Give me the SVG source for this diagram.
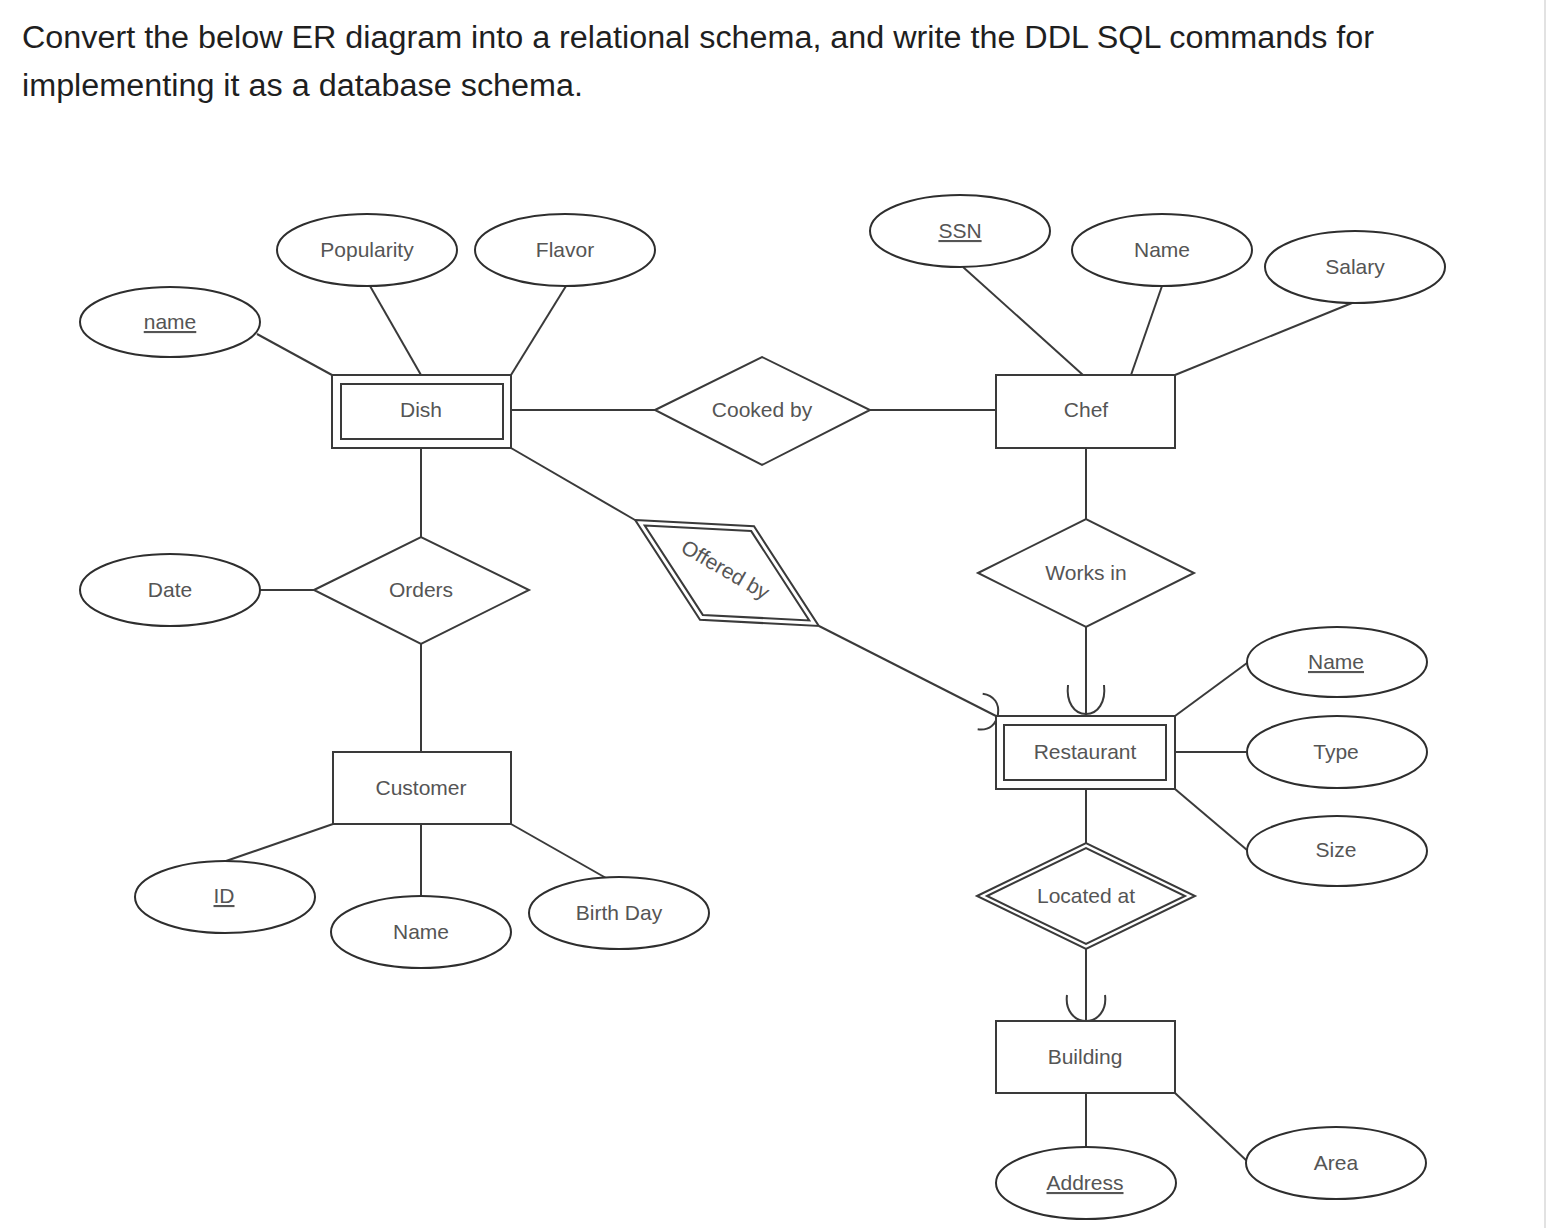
<svg xmlns="http://www.w3.org/2000/svg" width="1548" height="1228" viewBox="0 0 1548 1228">
<style>
.bg{fill:#ffffff}
.ent{fill:#ffffff;stroke:#3a3a3a;stroke-width:2}
.attr{fill:#ffffff;stroke:#2e2e2e;stroke-width:2}
.rel{fill:#ffffff;stroke:#3a3a3a;stroke-width:2}
.ln{stroke:#3a3a3a;stroke-width:2;fill:none}
.lbl{font-family:"Liberation Sans",Arial,sans-serif;font-size:21px;fill:#555555;text-anchor:middle}
.key{text-decoration:underline}
.hdr{font-family:"Liberation Sans",Arial,sans-serif;font-size:31px;fill:#1f1f1f}
</style>
<rect class="bg" x="0" y="0" width="1548" height="1228"/>
<line x1="1545" y1="0" x2="1545" y2="1228" stroke="#e2e2e2" stroke-width="2"/>
<g id="header">
<text class="hdr" x="22" y="48" textLength="1352" lengthAdjust="spacingAndGlyphs">Convert the below ER diagram into a relational schema, and write the DDL SQL commands for</text>
<text class="hdr" x="22" y="96" textLength="561" lengthAdjust="spacingAndGlyphs">implementing it as a database schema.</text>
</g>
<g id="connectors">
<line class="ln" x1="257" y1="334" x2="332" y2="375"/>
<line class="ln" x1="370" y1="286" x2="421" y2="375"/>
<line class="ln" x1="566" y1="286" x2="511" y2="375"/>
<line class="ln" x1="511" y1="410" x2="655" y2="410"/>
<line class="ln" x1="870" y1="410" x2="996" y2="410"/>
<line class="ln" x1="963" y1="267" x2="1083" y2="375"/>
<line class="ln" x1="1162" y1="286" x2="1131" y2="375"/>
<line class="ln" x1="1352" y1="303" x2="1175" y2="375"/>
<line class="ln" x1="1086" y1="448" x2="1086" y2="519"/>
<line class="ln" x1="1086" y1="627" x2="1086" y2="716"/>
<line class="ln" x1="511" y1="448" x2="635" y2="520"/>
<line class="ln" x1="819" y1="626" x2="996" y2="716"/>
<line class="ln" x1="421" y1="448" x2="421" y2="537"/>
<line class="ln" x1="260" y1="590" x2="314" y2="590"/>
<line class="ln" x1="421" y1="644" x2="421" y2="752"/>
<line class="ln" x1="333" y1="824" x2="226" y2="861"/>
<line class="ln" x1="421" y1="824" x2="421" y2="896"/>
<line class="ln" x1="511" y1="824" x2="606" y2="878"/>
<line class="ln" x1="1175" y1="716" x2="1247" y2="663"/>
<line class="ln" x1="1175" y1="752" x2="1246" y2="752"/>
<line class="ln" x1="1175" y1="789" x2="1247" y2="850"/>
<line class="ln" x1="1086" y1="789" x2="1086" y2="843"/>
<line class="ln" x1="1086" y1="948" x2="1086" y2="1021"/>
<line class="ln" x1="1086" y1="1093" x2="1086" y2="1147"/>
<line class="ln" x1="1175" y1="1093" x2="1248" y2="1162"/>
<path class="ln" d="M1068,685 C1066,702 1074,714 1086,714 C1098,714 1106,702 1104,685"/>
<path class="ln" d="M1067,995 C1065,1010 1074,1021 1086,1021 C1098,1021 1107,1010 1105,995"/>
<path class="ln" transform="translate(998,714) rotate(-82)" d="M-18,-18 C-18,-6 -10,0 0,0 C10,0 18,-6 18,-18"/>
</g>
<g id="attr-name">
<ellipse class="attr" cx="170" cy="322" rx="90" ry="35"/>
<text class="lbl key" x="170" y="329">name</text>
</g>
<g id="attr-popularity">
<ellipse class="attr" cx="367" cy="250" rx="90" ry="36"/>
<text class="lbl" x="367" y="257">Popularity</text>
</g>
<g id="attr-flavor">
<ellipse class="attr" cx="565" cy="250" rx="90" ry="36"/>
<text class="lbl" x="565" y="257">Flavor</text>
</g>
<g id="attr-ssn">
<ellipse class="attr" cx="960" cy="231" rx="90" ry="36"/>
<text class="lbl key" x="960" y="238">SSN</text>
</g>
<g id="attr-chef-name">
<ellipse class="attr" cx="1162" cy="250" rx="90" ry="36"/>
<text class="lbl" x="1162" y="257">Name</text>
</g>
<g id="attr-salary">
<ellipse class="attr" cx="1355" cy="267" rx="90" ry="36"/>
<text class="lbl" x="1355" y="274">Salary</text>
</g>
<g id="dish">
<rect class="ent" x="332" y="375" width="179" height="73"/>
<rect class="ent" x="341" y="384" width="162" height="55"/>
<text class="lbl" x="421" y="417">Dish</text>
</g>
<g id="cooked-by">
<polygon class="rel" points="655,410 762,357 870,410 762,465"/>
<text class="lbl" x="762" y="417">Cooked by</text>
</g>
<g id="chef">
<rect class="ent" x="996" y="375" width="179" height="73"/>
<text class="lbl" x="1086" y="417">Chef</text>
</g>
<g id="works-in">
<polygon class="rel" points="978,573 1086,519 1194,573 1086,627"/>
<text class="lbl" x="1086" y="580">Works in</text>
</g>
<g id="offered-by" transform="translate(727,573) rotate(30)">
<polygon class="rel" points="-106,0 0,-54 106,0 0,54"/>
<polygon class="rel" points="-95,0 0,-48.4 95,0 0,48.4"/>
<text class="lbl" x="-3" y="5">Offered by</text>
</g>
<g id="orders">
<polygon class="rel" points="314,590 421,537 529,590 421,644"/>
<text class="lbl" x="421" y="597">Orders</text>
</g>
<g id="attr-date">
<ellipse class="attr" cx="170" cy="590" rx="90" ry="36"/>
<text class="lbl" x="170" y="597">Date</text>
</g>
<g id="customer">
<rect class="ent" x="333" y="752" width="178" height="72"/>
<text class="lbl" x="421" y="795">Customer</text>
</g>
<g id="attr-id">
<ellipse class="attr" cx="225" cy="897" rx="90" ry="36"/>
<text class="lbl key" x="224" y="903">ID</text>
</g>
<g id="attr-customer-name">
<ellipse class="attr" cx="421" cy="932" rx="90" ry="36"/>
<text class="lbl" x="421" y="939">Name</text>
</g>
<g id="attr-birthday">
<ellipse class="attr" cx="619" cy="913" rx="90" ry="36"/>
<text class="lbl" x="619" y="920">Birth Day</text>
</g>
<g id="restaurant">
<rect class="ent" x="996" y="716" width="179" height="73"/>
<rect class="ent" x="1004" y="725" width="162" height="55"/>
<text class="lbl" x="1085" y="759">Restaurant</text>
</g>
<g id="attr-restaurant-name">
<ellipse class="attr" cx="1337" cy="662" rx="90" ry="35"/>
<text class="lbl key" x="1336" y="669">Name</text>
</g>
<g id="attr-type">
<ellipse class="attr" cx="1337" cy="752" rx="90" ry="36"/>
<text class="lbl" x="1336" y="759">Type</text>
</g>
<g id="attr-size">
<ellipse class="attr" cx="1337" cy="851" rx="90" ry="35"/>
<text class="lbl" x="1336" y="857">Size</text>
</g>
<g id="located-at">
<polygon class="rel" points="977,896 1086,843 1195,896 1086,949"/>
<polygon class="rel" points="987,896 1086,848 1185,896 1086,944"/>
<text class="lbl" x="1086" y="903">Located at</text>
</g>
<g id="building">
<rect class="ent" x="996" y="1021" width="179" height="72"/>
<text class="lbl" x="1085" y="1064">Building</text>
</g>
<g id="attr-address">
<ellipse class="attr" cx="1086" cy="1183" rx="90" ry="36"/>
<text class="lbl key" x="1085" y="1190">Address</text>
</g>
<g id="attr-area">
<ellipse class="attr" cx="1336" cy="1163" rx="90" ry="36"/>
<text class="lbl" x="1336" y="1170">Area</text>
</g>
</svg>
